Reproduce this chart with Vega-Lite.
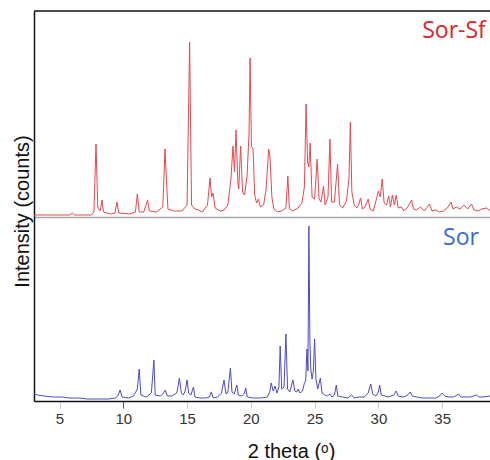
{
  "$schema": "https://vega.github.io/schema/vega-lite/v6.json",
  "padding": {"left": 12, "top": 10, "right": 0, "bottom": 0},
  "bounds": "flush",
  "spacing": 0,
  "config": {
    "view": {"stroke": null},
    "axis": {"grid": false, "labelFont": "Liberation Sans", "titleFont": "Liberation Sans", "titleFontWeight": "normal"}
  },
  "datasets": {
    "sorsf": [
      {"t":3.0,"i":2},{"t":5.8,"i":2},{"t":6.0,"i":4},{"t":6.2,"i":2},{"t":7.5,"i":2},{"t":7.7,"i":5},{"t":7.86,"i":73},{"t":8.0,"i":10},{"t":8.2,"i":6},{"t":8.33,"i":17},{"t":8.45,"i":5},{"t":9.0,"i":3},{"t":9.35,"i":4},{"t":9.5,"i":15},{"t":9.65,"i":4},{"t":10.5,"i":3},{"t":10.95,"i":5},{"t":11.1,"i":23},{"t":11.25,"i":5},{"t":11.6,"i":5},{"t":11.9,"i":17},{"t":12.05,"i":6},{"t":12.6,"i":5},{"t":13.1,"i":10},{"t":13.27,"i":68},{"t":13.35,"i":46},{"t":13.5,"i":8},{"t":14.0,"i":6},{"t":14.6,"i":6},{"t":15.0,"i":12},{"t":15.2,"i":175},{"t":15.35,"i":12},{"t":15.6,"i":8},{"t":15.9,"i":7},{"t":16.2,"i":5},{"t":16.6,"i":12},{"t":16.8,"i":39},{"t":16.92,"i":20},{"t":17.04,"i":24},{"t":17.2,"i":9},{"t":17.6,"i":6},{"t":17.9,"i":7},{"t":18.2,"i":12},{"t":18.45,"i":40},{"t":18.6,"i":71},{"t":18.72,"i":45},{"t":18.84,"i":87},{"t":18.98,"i":35},{"t":19.05,"i":28},{"t":19.2,"i":71},{"t":19.35,"i":25},{"t":19.5,"i":22},{"t":19.7,"i":40},{"t":19.86,"i":84},{"t":19.94,"i":159},{"t":20.05,"i":70},{"t":20.17,"i":69},{"t":20.3,"i":22},{"t":20.45,"i":14},{"t":20.6,"i":18},{"t":20.75,"i":10},{"t":21.0,"i":12},{"t":21.2,"i":28},{"t":21.4,"i":68},{"t":21.5,"i":60},{"t":21.65,"i":20},{"t":21.8,"i":8},{"t":22.1,"i":5},{"t":22.4,"i":6},{"t":22.75,"i":9},{"t":22.9,"i":41},{"t":23.02,"i":8},{"t":23.3,"i":6},{"t":23.7,"i":9},{"t":24.0,"i":14},{"t":24.2,"i":30},{"t":24.33,"i":113},{"t":24.45,"i":55},{"t":24.55,"i":50},{"t":24.65,"i":74},{"t":24.8,"i":20},{"t":25.0,"i":18},{"t":25.2,"i":58},{"t":25.35,"i":18},{"t":25.5,"i":15},{"t":25.7,"i":31},{"t":25.82,"i":12},{"t":26.05,"i":20},{"t":26.2,"i":78},{"t":26.33,"i":15},{"t":26.55,"i":15},{"t":26.8,"i":53},{"t":26.95,"i":12},{"t":27.2,"i":9},{"t":27.5,"i":16},{"t":27.7,"i":40},{"t":27.8,"i":95},{"t":27.92,"i":25},{"t":28.1,"i":12},{"t":28.3,"i":9},{"t":28.45,"i":12},{"t":28.6,"i":19},{"t":28.75,"i":8},{"t":28.95,"i":10},{"t":29.2,"i":18},{"t":29.35,"i":8},{"t":29.6,"i":6},{"t":29.85,"i":18},{"t":30.0,"i":26},{"t":30.15,"i":20},{"t":30.3,"i":38},{"t":30.45,"i":14},{"t":30.65,"i":12},{"t":30.8,"i":21},{"t":30.95,"i":10},{"t":31.1,"i":22},{"t":31.25,"i":12},{"t":31.4,"i":22},{"t":31.55,"i":9},{"t":31.8,"i":10},{"t":32.0,"i":6},{"t":32.3,"i":10},{"t":32.6,"i":17},{"t":32.75,"i":8},{"t":33.0,"i":7},{"t":33.3,"i":10},{"t":33.6,"i":6},{"t":34.0,"i":13},{"t":34.2,"i":6},{"t":34.5,"i":7},{"t":34.8,"i":5},{"t":35.1,"i":6},{"t":35.4,"i":9},{"t":35.7,"i":15},{"t":35.85,"i":8},{"t":36.1,"i":10},{"t":36.4,"i":8},{"t":36.7,"i":12},{"t":37.0,"i":8},{"t":37.3,"i":13},{"t":37.5,"i":7},{"t":37.8,"i":6},{"t":38.1,"i":8},{"t":38.5,"i":9},{"t":38.75,"i":6}
    ],
    "sor": [
      {"t":3.0,"i":7},{"t":3.3,"i":6},{"t":3.8,"i":5},{"t":4.5,"i":4},{"t":5.2,"i":4},{"t":5.8,"i":3},{"t":6.5,"i":3},{"t":7.2,"i":2},{"t":8.0,"i":2},{"t":8.8,"i":2},{"t":9.4,"i":3},{"t":9.6,"i":6},{"t":9.75,"i":11},{"t":9.9,"i":4},{"t":10.4,"i":3},{"t":10.8,"i":5},{"t":11.1,"i":12},{"t":11.25,"i":32},{"t":11.38,"i":6},{"t":11.8,"i":4},{"t":12.2,"i":8},{"t":12.4,"i":41},{"t":12.5,"i":6},{"t":12.9,"i":5},{"t":13.1,"i":7},{"t":13.3,"i":11},{"t":13.45,"i":5},{"t":13.8,"i":5},{"t":14.2,"i":8},{"t":14.4,"i":23},{"t":14.55,"i":8},{"t":14.7,"i":6},{"t":14.85,"i":10},{"t":15.0,"i":21},{"t":15.12,"i":8},{"t":15.3,"i":6},{"t":15.5,"i":14},{"t":15.62,"i":4},{"t":16.0,"i":3},{"t":16.5,"i":3},{"t":16.75,"i":4},{"t":16.9,"i":9},{"t":17.05,"i":3},{"t":17.4,"i":4},{"t":17.7,"i":8},{"t":17.9,"i":21},{"t":18.05,"i":7},{"t":18.2,"i":9},{"t":18.4,"i":33},{"t":18.52,"i":9},{"t":18.7,"i":7},{"t":18.9,"i":16},{"t":19.02,"i":6},{"t":19.3,"i":5},{"t":19.5,"i":8},{"t":19.6,"i":13},{"t":19.72,"i":4},{"t":20.2,"i":3},{"t":20.8,"i":3},{"t":21.3,"i":4},{"t":21.5,"i":10},{"t":21.6,"i":18},{"t":21.75,"i":10},{"t":21.9,"i":15},{"t":22.05,"i":8},{"t":22.2,"i":14},{"t":22.3,"i":55},{"t":22.42,"i":12},{"t":22.6,"i":14},{"t":22.75,"i":67},{"t":22.88,"i":12},{"t":23.05,"i":9},{"t":23.3,"i":21},{"t":23.45,"i":10},{"t":23.6,"i":9},{"t":23.7,"i":12},{"t":23.85,"i":8},{"t":24.05,"i":10},{"t":24.2,"i":18},{"t":24.3,"i":20},{"t":24.4,"i":52},{"t":24.48,"i":30},{"t":24.55,"i":175},{"t":24.63,"i":60},{"t":24.7,"i":32},{"t":24.8,"i":22},{"t":24.9,"i":30},{"t":25.0,"i":62},{"t":25.1,"i":22},{"t":25.25,"i":12},{"t":25.45,"i":23},{"t":25.58,"i":8},{"t":25.8,"i":6},{"t":26.0,"i":5},{"t":26.2,"i":7},{"t":26.35,"i":4},{"t":26.55,"i":6},{"t":26.7,"i":16},{"t":26.82,"i":5},{"t":27.2,"i":4},{"t":27.6,"i":3},{"t":27.9,"i":6},{"t":28.1,"i":3},{"t":28.5,"i":4},{"t":28.9,"i":4},{"t":29.2,"i":8},{"t":29.4,"i":17},{"t":29.55,"i":7},{"t":29.8,"i":5},{"t":30.0,"i":9},{"t":30.1,"i":16},{"t":30.22,"i":6},{"t":30.5,"i":5},{"t":30.8,"i":4},{"t":31.2,"i":6},{"t":31.4,"i":10},{"t":31.55,"i":5},{"t":31.9,"i":4},{"t":32.2,"i":5},{"t":32.5,"i":9},{"t":32.65,"i":5},{"t":33.0,"i":4},{"t":33.5,"i":3},{"t":34.0,"i":3},{"t":34.5,"i":3},{"t":34.8,"i":5},{"t":35.0,"i":8},{"t":35.2,"i":5},{"t":35.5,"i":4},{"t":35.9,"i":4},{"t":36.3,"i":7},{"t":36.45,"i":4},{"t":36.8,"i":4},{"t":37.2,"i":4},{"t":37.7,"i":6},{"t":37.85,"i":4},{"t":38.2,"i":4},{"t":38.75,"i":5}
    ]
  },
  "vconcat": [
    {
      "width": 456,
      "height": 206,
      "layer": [
        {
          "data": {"name": "sorsf"},
          "mark": {"type": "line", "color": "#e8474e", "strokeWidth": 1, "clip": true},
          "encoding": {
            "x": {"field": "t", "type": "quantitative", "scale": {"domain": [3, 38.75], "nice": false, "zero": false},
                  "axis": {"labels": false, "ticks": false, "title": null, "domainColor": "#a8a8a8", "domainWidth": 1.5}},
            "y": {"field": "i", "type": "quantitative", "scale": {"domain": [0, 206], "nice": false},
                  "axis": {"labels": false, "ticks": false, "domainColor": "#111", "domainWidth": 1.5,
                           "title": "Intensity (counts)", "titleFontSize": 20, "titleColor": "#111", "titlePadding": 2, "titleY": 200}}
          }
        },
        {
          "data": {"values": [{}]},
          "mark": {"type": "rule", "color": "#111", "strokeWidth": 1.5},
          "encoding": {"y": {"datum": 206}}
        },
        {
          "data": {"values": [{}]},
          "mark": {"type": "text", "text": "Sor-Sf", "font": "Open Sans", "fontSize": 23, "color": "#e2202a", "align": "center", "baseline": "middle"},
          "encoding": {"x": {"datum": 35.93}, "y": {"datum": 186}}
        }
      ]
    },
    {
      "width": 456,
      "height": 184,
      "layer": [
        {
          "data": {"name": "sor"},
          "mark": {"type": "line", "color": "#4b4bc8", "strokeWidth": 1, "clip": true},
          "encoding": {
            "x": {"field": "t", "type": "quantitative", "scale": {"domain": [3, 38.75], "nice": false, "zero": false},
                  "axis": {"values": [5, 10, 15, 20, 25, 30, 35], "domainColor": "#111", "domainWidth": 1.5,
                           "tickColor": {"condition": {"test": "datum.value === 10", "value": "#555"}, "value": "#c8c8c8"},
                           "tickSize": 7, "labelPadding": 3, "labelFontSize": 15, "labelColor": "#333",
                           "title": "2 theta (ᵒ)", "titleFontSize": 20, "titleColor": "#111", "titleBaseline": "alphabetic", "titleY": 56, "titleX": 257}},
            "y": {"field": "i", "type": "quantitative", "scale": {"domain": [0, 184], "nice": false},
                  "axis": {"labels": false, "ticks": false, "title": null, "domainColor": "#111", "domainWidth": 1.5}}
          }
        },
        {
          "data": {"values": [{}]},
          "mark": {"type": "text", "text": "Sor", "font": "Open Sans", "fontSize": 23, "color": "#3a6bd4", "align": "center", "baseline": "middle"},
          "encoding": {"x": {"datum": 36.48}, "y": {"datum": 163}}
        }
      ]
    }
  ]
}
